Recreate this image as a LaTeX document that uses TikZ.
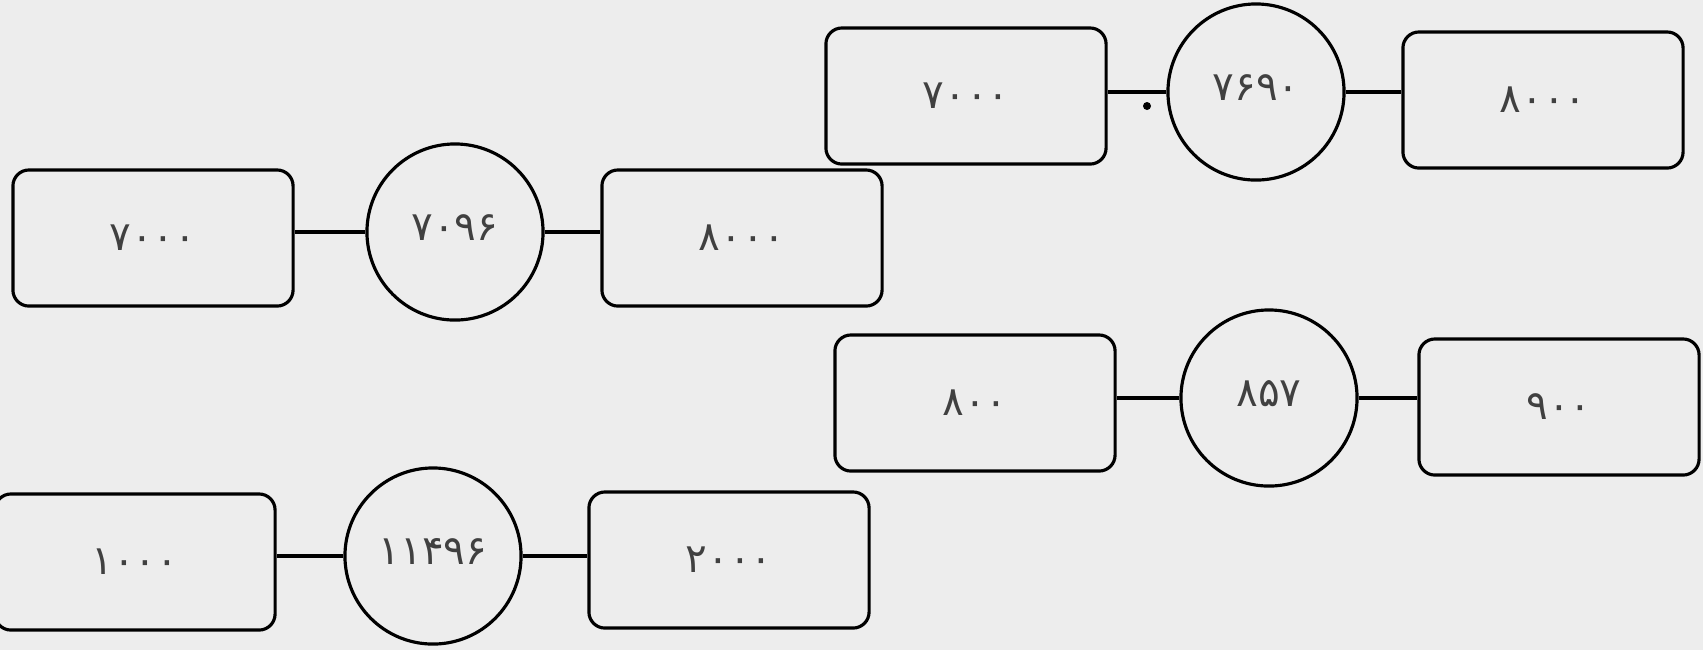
\documentclass[tikz,border=0pt]{standalone}
\usepackage{fontspec}
\newfontfamily\fadigits[Script=Arabic]{DejaVu Sans}
\usetikzlibrary{calc}

\begin{document}
\begin{tikzpicture}[x=0.01cm,y=-0.01cm,
    box/.style={draw=black,line width=0.9pt,rounded corners=0.16cm,
      minimum width=2.8cm,minimum height=1.36cm},
    disc/.style={draw=black,circle,line width=0.9pt,minimum size=1.76cm},
    link/.style={line width=0.9pt},
    every node/.style={text=black!75,font=\fadigits\fontsize{11.5}{13}\selectfont}]
  \fill[black!7] (0,0) rectangle (1703,650);
  \useasboundingbox (0,0) rectangle (1703,650);
  % one row: left box -- circle -- right box
  \foreach \r/\lx/\ly/\cx/\cy/\rx/\ry/\lt/\ct/\rt in {
      a/966/96/1256/92/1543/100/۷۰۰۰/۷۶۹۰/۸۰۰۰,
      b/153/238/455/232/742/238/۷۰۰۰/۷۰۹۶/۸۰۰۰,
      c/975/403/1269/398/1559/407/۸۰۰/۸۵۷/۹۰۰,
      d/135/562/433/556/729/560/۱۰۰۰/۱۱۴۹۶/۲۰۰۰}{
    \node[box] (l\r) at (\lx,\ly) {\lt};
    \node[disc] (c\r) at (\cx,\cy) {\raisebox{2.5pt}{\ct}};
    \node[box] (r\r) at (\rx,\ry) {\rt};
    \draw[link] (c\r.west) -- (c\r.west -| l\r.east);
    \draw[link] (c\r.east) -- (c\r.east -| r\r.west);
  }
  \fill (1147,106) circle (0.04cm);
\end{tikzpicture}
\end{document}
